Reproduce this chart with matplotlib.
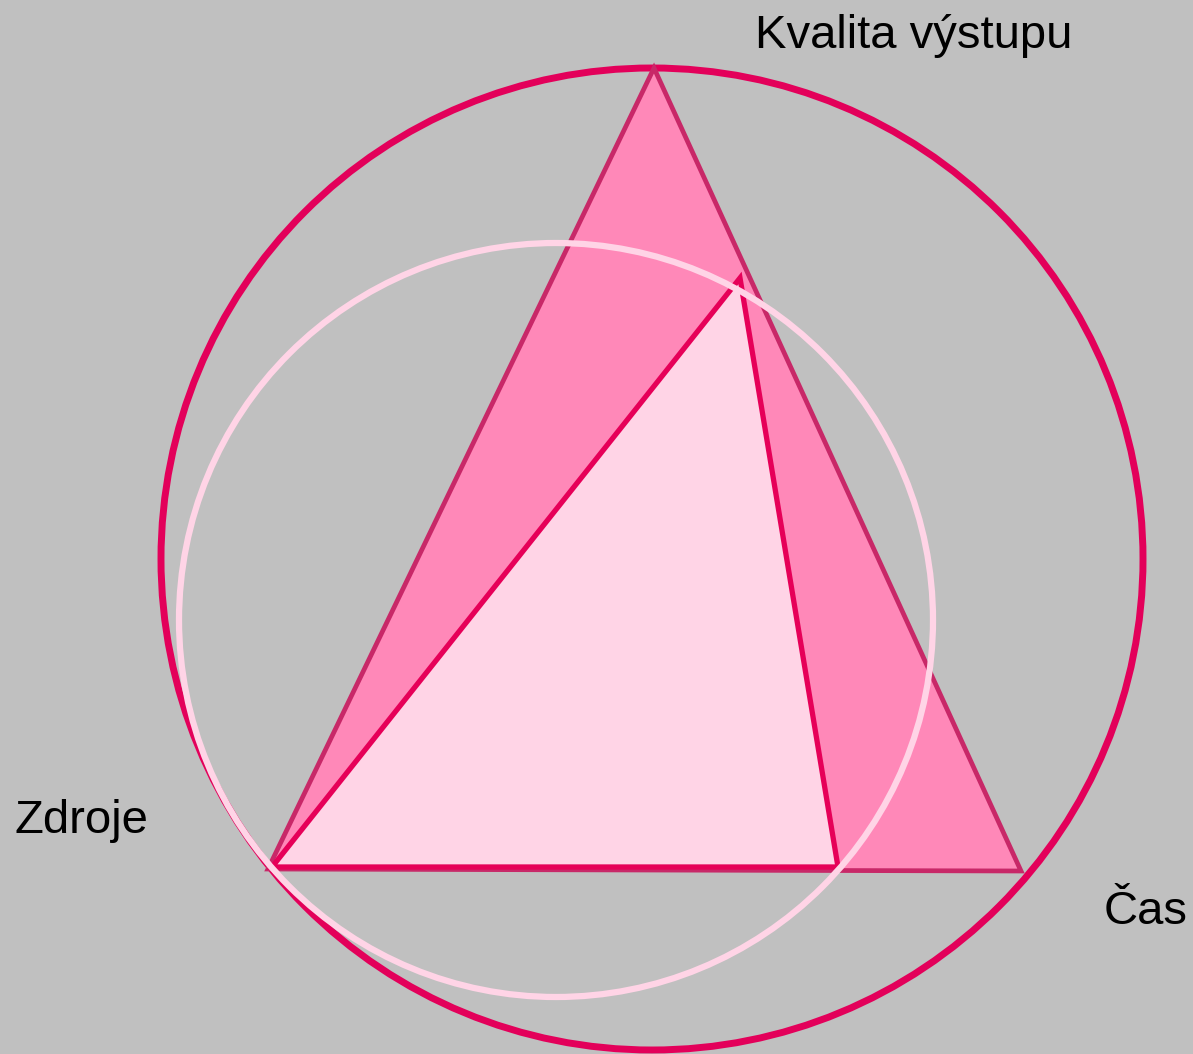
import matplotlib.pyplot as plt
from matplotlib.patches import Polygon, Circle

# diagram geometry (pixel space of the picture, y downwards)
labels = ['Kvalita výstupu', 'Čas', 'Zdroje']
label_x = [755, 1104, 14]
label_y = [48, 924, 833]

outer_tri_x = [654, 1021, 268]
outer_tri_y = [68, 871, 869]

inner_tri_x = [740, 838, 272]
inner_tri_y = [278, 867, 867]

outer_circle = (652, 559, 491)   # cx, cy, r
inner_circle = (556, 620, 377)

bg = '#c0c0c0'

fig = plt.figure(figsize=(11.93, 10.54), dpi=100)
fig.patch.set_facecolor(bg)
ax = fig.add_axes([0, 0, 1, 1])
ax.set_facecolor(bg)
ax.set_xlim(0, 1193)
ax.set_ylim(1054, 0)
ax.set_aspect('equal')
ax.axis('off')

ax.add_patch(Circle(outer_circle[:2], outer_circle[2], fill=False,
                    edgecolor='#e3005a', linewidth=5.0, zorder=1))

ax.add_patch(Polygon(list(zip(outer_tri_x, outer_tri_y)), closed=True,
                     facecolor='#ff88b8', edgecolor='#c82868',
                     linewidth=3.4, joinstyle='miter', zorder=2))

ax.add_patch(Polygon(list(zip(inner_tri_x, inner_tri_y)), closed=True,
                     facecolor='#ffd4e6', edgecolor='#e60058',
                     linewidth=3.8, joinstyle='miter', zorder=3))

ax.add_patch(Circle(inner_circle[:2], inner_circle[2], fill=False,
                    edgecolor='#ffd4e6', linewidth=4.5, zorder=4))

for txt, x, y in zip(labels, label_x, label_y):
    ax.text(x, y, txt, fontsize=34, family='Liberation Sans',
            color='black', ha='left', va='baseline', zorder=5)

fig.savefig('out.png', dpi=100, facecolor=bg)
